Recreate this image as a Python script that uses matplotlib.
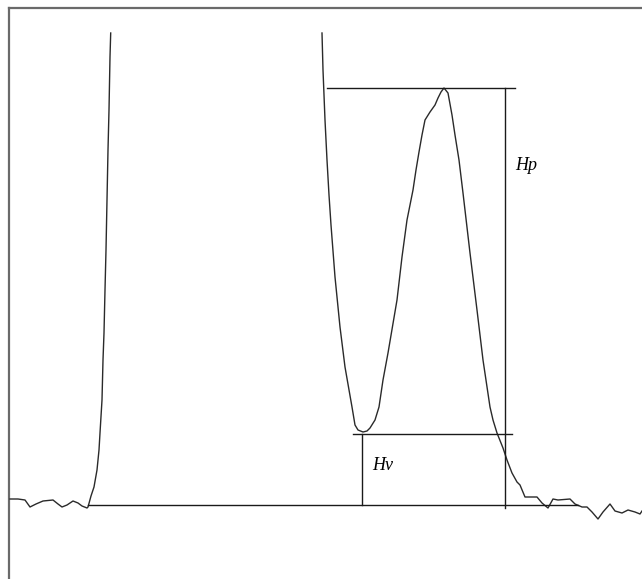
#!/usr/bin/env python3
"""
Chromatogram sketch: peak height Hp and valley height Hv
"""

import numpy as np
import matplotlib.pyplot as plt

BASE = 505  # baseline row in the picture, signal is measured up from it

# first peak (rising edge, goes off scale)
peak1_t = [10, 18, 25, 30, 36, 43, 53, 58, 62, 67, 73, 78, 82, 87,
           88, 91, 94, 97, 99, 100, 102, 103, 104, 105, 106, 107, 108,
           109, 110, 110.7]
peak1_y = [499, 499, 500, 507, 504, 501, 500, 504, 507, 505, 501, 503,
           506, 508, 507, 496, 487, 470, 450, 433, 400, 360, 333, 290,
           250, 200, 150, 110, 57, 33]

# second peak pair (tail of off-scale peak, valley, small peak, tail)
peak2_t = [322, 323, 325, 327, 329, 331, 335, 340, 345, 352, 355,
           358, 363, 367, 370, 375, 379, 383, 388, 397, 402, 407, 413,
           416, 419, 422, 425, 430, 435, 438, 441, 444, 448, 452,
           455, 459, 463, 470, 477, 483, 490, 493, 497, 503, 507, 512,
           517, 520, 525, 537, 542, 548, 553, 558, 570, 575, 582, 587,
           592, 598, 603, 610, 615, 622, 628, 635, 640, 642]
peak2_y = [33, 70, 120, 160, 195, 225, 277, 327, 367, 407, 425,
           430, 432, 431, 428, 420, 407, 380, 353, 300, 257, 220, 190,
           170, 152, 135, 120, 112, 105, 98, 92, 88, 93, 115,
           135, 160, 193, 253, 310, 360, 407, 420, 433, 448, 460, 473,
           482, 485, 497, 497, 503, 508, 499, 500, 499, 504, 507, 507,
           512, 519, 512, 504, 511, 513, 510, 512, 514, 511]


def to_signal(rows):
    return BASE - np.array(rows, dtype=float)


def draw(save_path="out.png"):
    s1 = to_signal(peak1_y)
    s2 = to_signal(peak2_y)
    t2 = np.array(peak2_t, dtype=float)

    # peak maximum and valley minimum of the second pair
    i_peak = np.argmax(np.where(t2 > 400, s2, -np.inf))
    i_val = np.argmin(np.where((t2 > 340) & (t2 < 400), s2, np.inf))
    hp, hv = s2[i_peak], s2[i_val] - 2
    x_meas = 505

    fig = plt.figure(figsize=(6.42, 5.79), dpi=100)
    ax = fig.add_axes([0, 0, 1, 1])
    ax.set_xlim(0, 642)
    ax.set_ylim(BASE - 579, BASE)
    ax.axis("off")

    # frame (top and left only)
    ax.plot([9, 642], [BASE - 8, BASE - 8], color="#6a6a6a", lw=1.6)
    ax.plot([9, 9], [BASE - 8, BASE - 579], color="#6a6a6a", lw=1.6)

    curve = dict(color="#2a2a2a", lw=1.0)
    ax.plot(peak1_t, s1, **curve)
    ax.plot(t2, s2, **curve)

    line = dict(color="#1a1a1a", lw=1.0)
    ax.plot([88, 578], [0, 0], **line)                 # baseline
    ax.plot([327, 515], [hp, hp], **line)              # peak level
    ax.plot([x_meas, x_meas], [hp, -3], **line)        # Hp
    ax.plot([353, 512], [hv, hv], **line)              # valley level
    ax.plot([t2[i_val] - 1, t2[i_val] - 1], [hv, 0], **line)  # Hv

    font = dict(family="Liberation Serif", style="italic", fontsize=13,
                color="black")
    ax.text(515, BASE - 170, "Hp", ha="left", va="baseline", **font)
    ax.text(372, BASE - 470, "Hv", ha="left", va="baseline", **font)

    fig.savefig(save_path, dpi=100)
    plt.close(fig)


if __name__ == "__main__":
    draw()
